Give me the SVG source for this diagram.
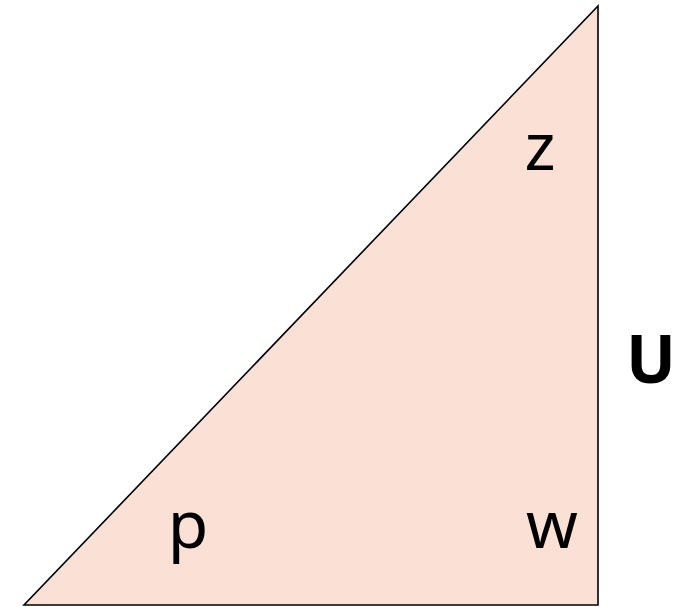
<svg xmlns="http://www.w3.org/2000/svg" width="687" height="607" viewBox="0 0 687 607">
<style>
.lbl{font-family:"Noto Sans","Open Sans","DejaVu Sans",sans-serif;font-size:66px;fill:#000;text-anchor:middle}
.b{font-weight:bold}
</style>
<rect width="687" height="607" fill="#fff"/>
<g id="triangle">
<polygon points="24,605 598,605 598,6" fill="#FBE1D5" stroke="#000" stroke-width="1.6" stroke-linejoin="miter"/>
</g>
<g id="label-z"><text class="lbl" x="540" y="170">z</text></g>
<g id="label-p"><text class="lbl" x="188" y="548">p</text></g>
<g id="label-w"><text class="lbl" x="552" y="548">w</text></g>
<g id="label-U"><text class="lbl b" x="651" y="383">U</text></g>
</svg>
